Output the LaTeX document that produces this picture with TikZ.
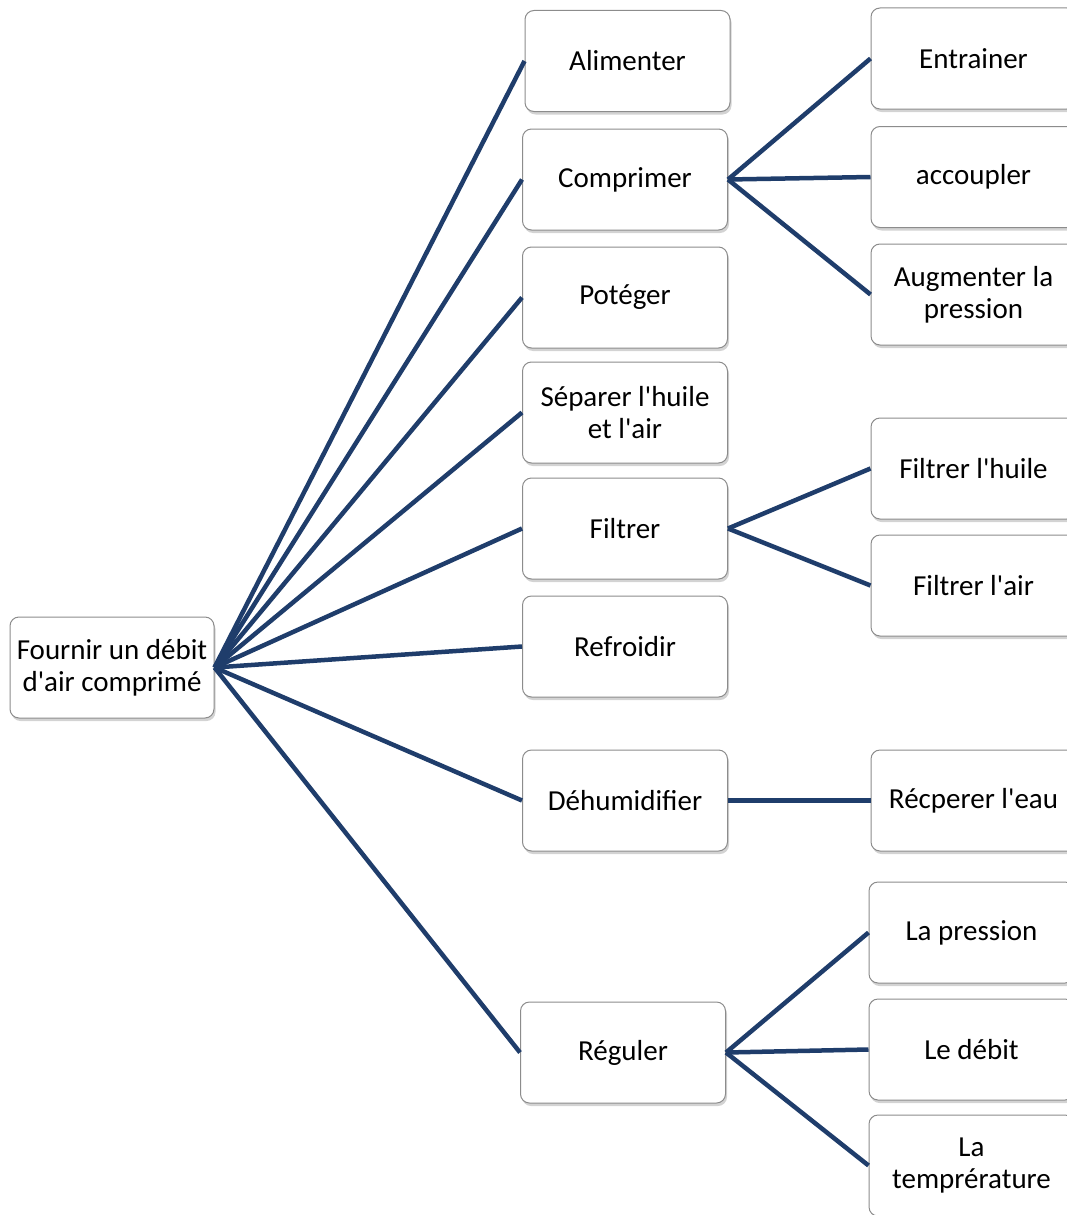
\documentclass[tikz,border=0pt]{standalone}
\usepackage{fontspec}
\setmainfont{Carlito}[Ligatures=TeXOff]
\usetikzlibrary{shadows}
\definecolor{linkc}{HTML}{1F3D6B}
\definecolor{boxline}{HTML}{8C8C8C}
\tikzset{
  fbox/.style={draw=boxline, line width=1pt, fill=white, rounded corners=9pt,
    minimum width=205pt, minimum height=101pt, inner sep=2pt, align=center,
    font=\fontsize{29}{32}\selectfont,
    drop shadow={opacity=0.35, shadow xshift=1.5pt, shadow yshift=-3pt}},
  link/.style={draw=linkc, line width=4.5pt}
}
\begin{document}
\begin{tikzpicture}[x=1pt,y=-1pt]
\useasboundingbox (0,0) rectangle (1067,1215);
% root
\node[fbox, minimum width=204pt] (root) at (112,667.5) {Fournir un débit\\d'air comprimé};
% middle column
\node[fbox] (ali) at (627.5,61) {Alimenter};
\node[fbox] (comp) at (625,179.5) {Comprimer};
\node[fbox] (prot) at (625,297.5) {Potéger};
\node[fbox] (sep) at (625,412.5) {Séparer l'huile\\et l'air};
\node[fbox] (filt) at (625,528.5) {Filtrer};
\node[fbox] (refr) at (625,646.5) {Refroidir};
\node[fbox] (dehu) at (625,800.5) {Déhumidifier};
\node[fbox] (reg) at (623,1052.5) {Réguler};
% right column
\node[fbox] (entr) at (973.5,58.5) {Entrainer};
\node[fbox] (acc) at (973.5,177) {accoupler};
\node[fbox] (aug) at (973.5,294.5) {Augmenter la\\pression};
\node[fbox] (fh) at (973.5,468.5) {Filtrer l'huile};
\node[fbox] (fa) at (973.5,585.5) {Filtrer l'air};
\node[fbox] (rec) at (973.5,800.5) {Récperer l'eau};
\node[fbox] (lp) at (971.5,932.5) {La pression};
\node[fbox] (ld) at (971.5,1049.5) {Le débit};
\node[fbox] (lt) at (971.5,1165.5) {La\\temprérature};
% connectors
\foreach \m in {ali,comp,prot,sep,filt,refr,dehu,reg}
  \draw[link] (root.east) -- (\m.west);
\foreach \r in {entr,acc,aug}
  \draw[link] (comp.east) -- (\r.west);
\foreach \r in {fh,fa}
  \draw[link] (filt.east) -- (\r.west);
\draw[link] (dehu.east) -- (rec.west);
\foreach \r in {lp,ld,lt}
  \draw[link] (reg.east) -- (\r.west);
\end{tikzpicture}
\end{document}
